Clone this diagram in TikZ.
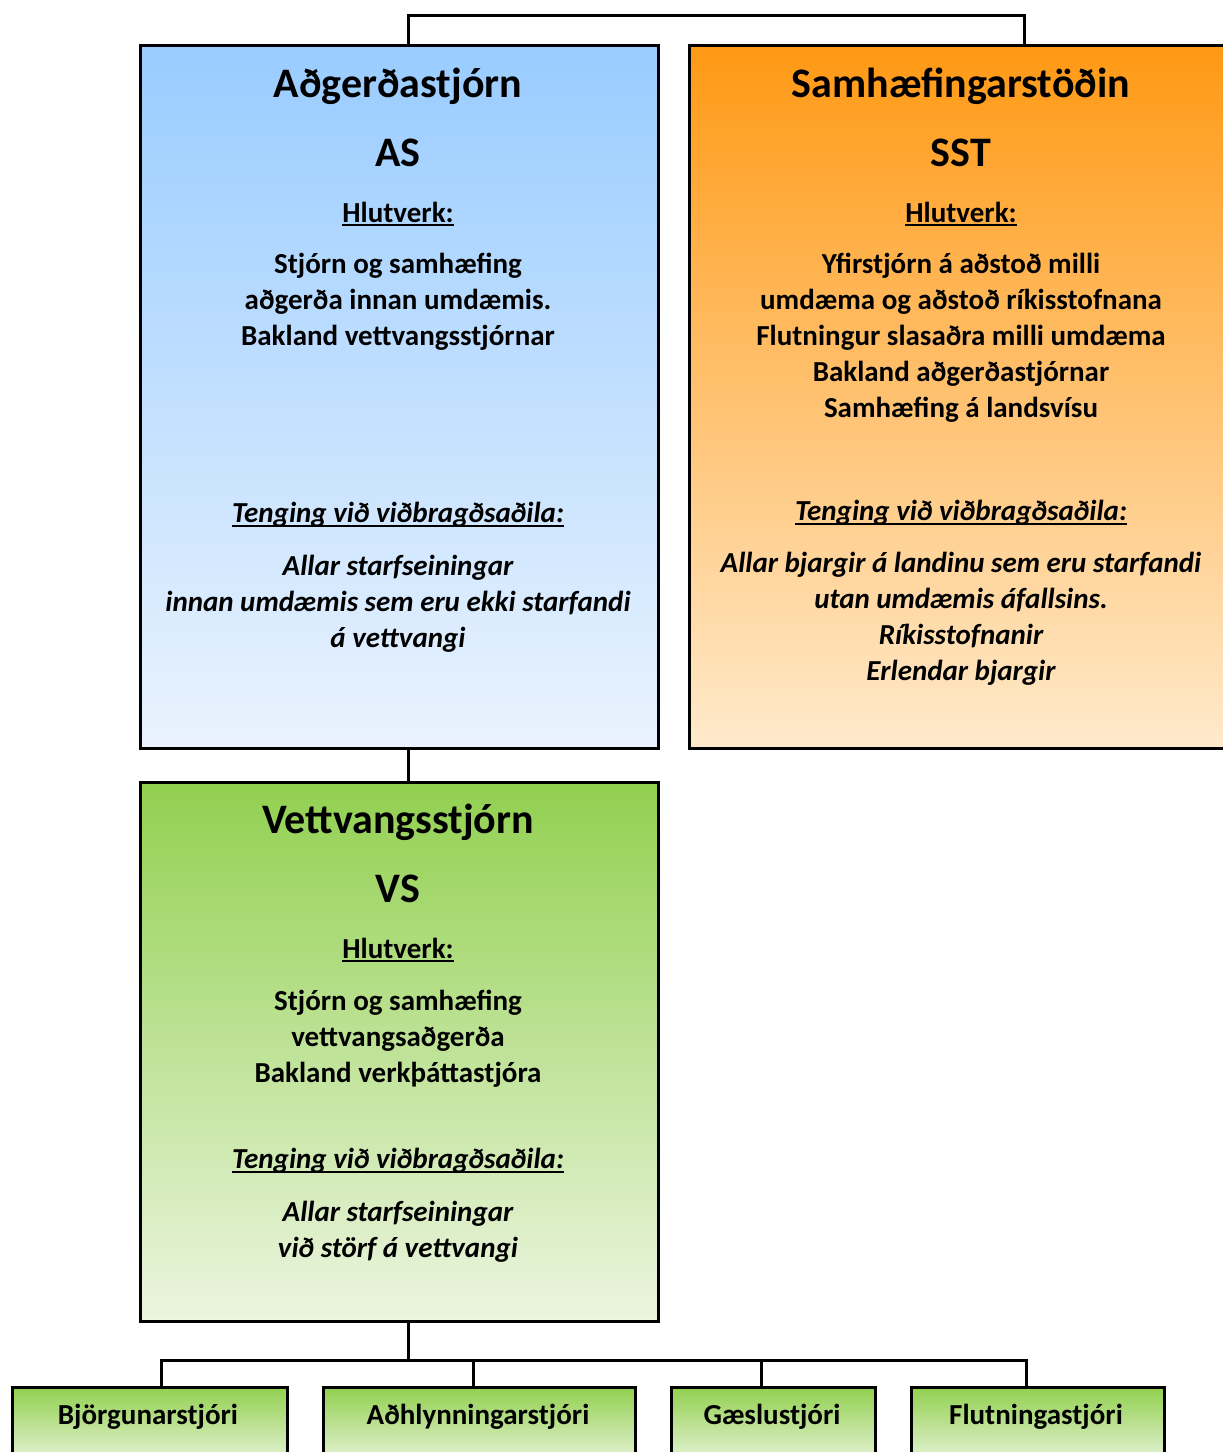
\documentclass[tikz,border=0pt]{standalone}
\usepackage{fontspec}
\setmainfont{Carlito}
\usepackage{tikz}

\definecolor{asTop}{RGB}{153,204,255}
\definecolor{asBot}{RGB}{234,243,254}
\definecolor{sstTop}{RGB}{255,153,20}
\definecolor{sstBot}{RGB}{255,234,204}
\definecolor{vsTop}{RGB}{146,208,80}
\definecolor{vsBot}{RGB}{236,245,224}

\newcommand\ulin[1]{\setbox0\hbox{#1}\rlap{\rule[-4pt]{\wd0}{2.2pt}}\box0}

\tikzset{
  orgbox/.style={draw, line width=3pt, anchor=north west, inner sep=0},
  head/.style={font=\bfseries\fontsize{42}{50}\selectfont, inner sep=0},
  txt/.style={font=\bfseries\fontsize{29}{36}\selectfont, align=center, inner sep=0},
  itxt/.style={txt, font=\bfseries\itshape\fontsize{29}{36}\selectfont},
  link/.style={line width=3pt},
}

\begin{document}
\begin{tikzpicture}[x=1pt,y=-1pt]
        \useasboundingbox (0,0) rectangle (1223,1452);
        \clip (0,0) rectangle (1223,1452);
        % main boxes
        \node[orgbox, top color=asTop, bottom color=asBot, minimum width=518, minimum height=703] (AS) at (139,44) {};
        \node[orgbox, top color=sstTop, bottom color=sstBot, minimum width=546, minimum height=703] (SST) at (688,44) {};
        \node[orgbox, top color=vsTop, bottom color=vsBot, minimum width=518, minimum height=539] (VS) at (139,781) {};
        % bottom row
        \node[orgbox, top color=vsTop, bottom color=vsBot, minimum width=275, minimum height=80] (B1) at (11,1386) {};
        \node[orgbox, top color=vsTop, bottom color=vsBot, minimum width=312, minimum height=80] (B2) at (322,1386) {};
        \node[orgbox, top color=vsTop, bottom color=vsBot, minimum width=204, minimum height=80] (B3) at (670,1386) {};
        \node[orgbox, top color=vsTop, bottom color=vsBot, minimum width=253, minimum height=80] (B4) at (910,1386) {};
        % connectors
        \draw[link] ([xshift=9]AS.north) -- ++(0,-29) -| ([xshift=62]SST.north);
        \draw[link] ([xshift=9]AS.south) -- ([xshift=9]VS.north);
        \draw[link] ([xshift=9]VS.south) -- ++(0,37) coordinate (bus);
        \foreach \b/\dx in {B1/11.5, B2/-6, B3/-12, B4/-11.5}
          \draw[link] ([xshift=\dx]\b.north) |- (bus);
        % AS
        \node[head] (AStitle) at (398,86) {Aðgerðastjórn};
        \node[head] (ASabbr) at (398,153) {AS};
        \node[txt] (AShl) at (398,214) {\ulin{Hlutverk:}};
        \node[txt] (ASrole) at (398,302) {Stjórn og samhæfing\\aðgerða innan umdæmis.\\Bakland vettvangsstjórnar};
        \node[itxt] (AStg) at (398,515) {\ulin{Tenging við viðbragðsaðila:}};
        \node[itxt] (ASlink) at (398,604) {Allar starfseiningar\\innan umdæmis sem eru ekki starfandi\\á vettvangi};
        % SST
        \node[head] (SSTtitle) at (961,86) {Samhæfingarstöðin};
        \node[head] (SSTabbr) at (961,153) {SST};
        \node[txt] (SSThl) at (961,214) {\ulin{Hlutverk:}};
        \node[txt] (SSTrole) at (961,338) {Yfirstjórn á aðstoð milli\\umdæma og aðstoð ríkisstofnana\\Flutningur slasaðra milli umdæma\\Bakland aðgerðastjórnar\\Samhæfing á landsvísu};
        \node[itxt] (SSTtg) at (961,513) {\ulin{Tenging við viðbragðsaðila:}};
        \node[itxt] (SSTlink) at (961,619) {Allar bjargir á landinu sem eru starfandi\\utan umdæmis áfallsins.\\Ríkisstofnanir\\Erlendar bjargir};
        % VS
        \node[head] (VStitle) at (398,822) {Vettvangsstjórn};
        \node[head] (VSabbr) at (398,889) {VS};
        \node[txt] (VShl) at (398,950) {\ulin{Hlutverk:}};
        \node[txt] (VSrole) at (398,1039) {Stjórn og samhæfing\\vettvangsaðgerða\\Bakland verkþáttastjóra};
        \node[itxt] (VStg) at (398,1161) {\ulin{Tenging við viðbragðsaðila:}};
        \node[itxt] (VSlink) at (398,1232) {Allar starfseiningar\\við störf á vettvangi};
        % bottom labels
        \node[txt] (B1txt) at (148,1417) {Björgunarstjóri};
        \node[txt] (B2txt) at (478,1417) {Aðhlynningarstjóri};
        \node[txt] (B3txt) at (772,1417) {Gæslustjóri};
        \node[txt] (B4txt) at (1036,1417) {Flutningastjóri};
      \end{tikzpicture}
\end{document}
